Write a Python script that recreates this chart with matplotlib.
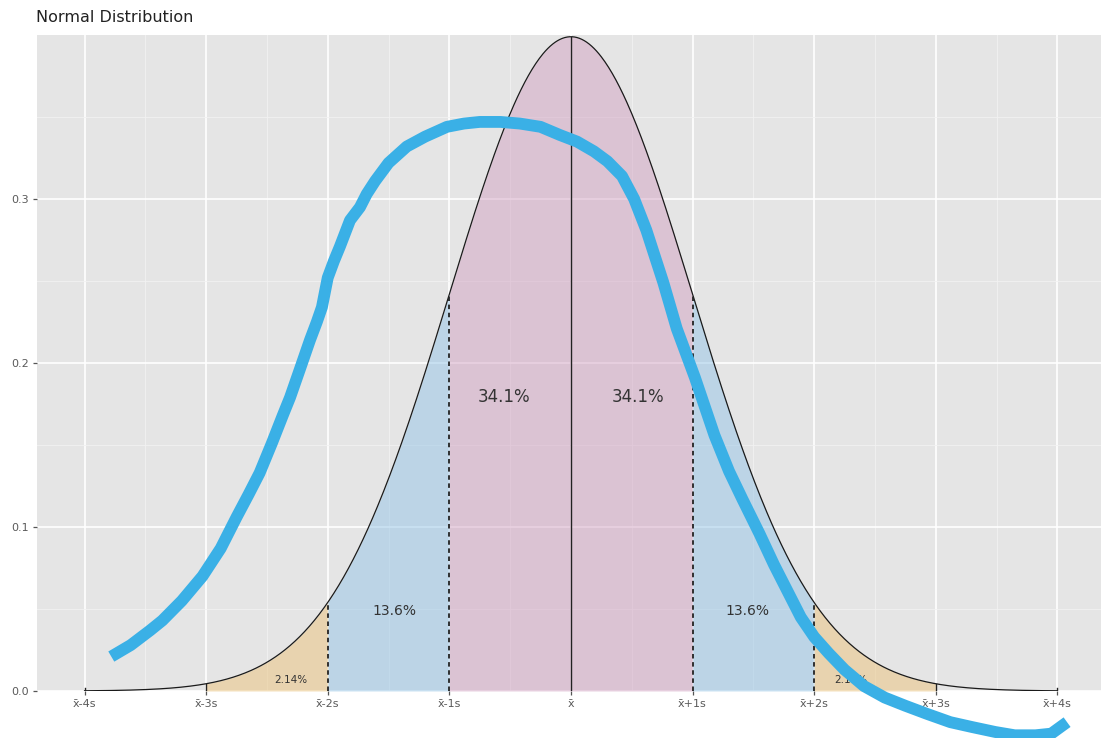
import numpy as np
import matplotlib.pyplot as plt

# normal curve parameters
mu = 0.0
sd = 1.0

tick_pos = [-4, -3, -2, -1, 0, 1, 2, 3, 4]
tick_labels = ["x\u0304-4s", "x\u0304-3s", "x\u0304-2s", "x\u0304-1s", "x\u0304",
               "x\u0304+1s", "x\u0304+2s", "x\u0304+3s", "x\u0304+4s"]
y_ticks = [0.0, 0.1, 0.2, 0.3]

# shaded bands: (from, to, colour)
bands = [(-3, -2, "#EBC37B"), (-2, -1, "#95C5E7"), (-1, 1, "#D3A3C3"),
         (1, 2, "#95C5E7"), (2, 3, "#EBC37B")]

# percentage labels
pct_text = ["34.1%", "34.1%", "13.6%", "13.6%", "2.14%", "2.14%"]
pct_x = [-0.55, 0.55, -1.45, 1.45, -2.3, 2.3]
pct_y = [0.179, 0.179, 0.049, 0.049, 0.0065, 0.0065]
pct_size = [12, 12, 10, 10, 7.5, 7.5]

# hand drawn blue curve
blue_x = [-3.78, -3.62, -3.46, -3.36, -3.2, -3.03, -2.88, -2.75, -2.65, -2.56,
          -2.46, -2.37, -2.31, -2.23, -2.146, -2.09, -2.048, -2.0, -1.95, -1.9,
          -1.817, -1.735, -1.68, -1.61, -1.5, -1.35, -1.2, -1.02, -0.88, -0.75,
          -0.58, -0.42, -0.25, -0.09, 0.05, 0.19, 0.3, 0.42, 0.52, 0.62, 0.69,
          0.76, 0.87, 1.02, 1.18, 1.3, 1.41, 1.55, 1.67, 1.78, 1.89, 2.0, 2.12,
          2.25, 2.41, 2.58, 2.75, 2.93, 3.12, 3.3, 3.49, 3.65, 3.82, 3.95, 4.08]
blue_y = [0.021, 0.028, 0.037, 0.043, 0.055, 0.07, 0.087, 0.106, 0.12, 0.133,
          0.151, 0.168, 0.179, 0.196, 0.214, 0.225, 0.234, 0.252, 0.262, 0.271,
          0.287, 0.295, 0.303, 0.311, 0.322, 0.332, 0.338, 0.344, 0.346, 0.347,
          0.347, 0.346, 0.344, 0.339, 0.335, 0.329, 0.323, 0.314, 0.3, 0.281,
          0.265, 0.249, 0.221, 0.191, 0.156, 0.134, 0.117, 0.096, 0.077, 0.061,
          0.045, 0.033, 0.023, 0.013, 0.003, -0.004, -0.009, -0.014, -0.019,
          -0.022, -0.025, -0.027, -0.027, -0.026, -0.019]

xs = np.linspace(-4, 4, 801)
dens = np.exp(-0.5 * ((xs - mu) / sd) ** 2) / (sd * np.sqrt(2 * np.pi))


def pdf(v):
    return np.exp(-0.5 * ((v - mu) / sd) ** 2) / (sd * np.sqrt(2 * np.pi))


fig = plt.figure(figsize=(11.01, 7.38), dpi=100)
ax = fig.add_axes([37 / 1101, 47 / 738, 1064 / 1101, 656 / 738])
ax.set_facecolor("#E5E5E5")

ax.set_xticks(tick_pos)
ax.set_xticklabels(tick_labels)
ax.set_xticks([-3.5, -2.5, -1.5, -0.5, 0.5, 1.5, 2.5, 3.5], minor=True)
ax.set_yticks(y_ticks)
ax.set_yticklabels(["0.0", "0.1", "0.2", "0.3"])
ax.set_yticks([0.05, 0.15, 0.25, 0.35], minor=True)
ax.set_xlim(-4.391, 4.359)
ax.set_ylim(0, 0.4)
ax.grid(which="major", color="white", lw=1.2)
ax.grid(which="minor", color="#F2F2F2", lw=0.6)
ax.set_axisbelow(True)
for s in ax.spines.values():
    s.set_visible(False)
ax.tick_params(which="major", length=3, width=0.9, color="#555555",
               labelcolor="#5a5a5a", labelsize=8, pad=3)
ax.tick_params(which="minor", length=0)

for lo, hi, col in bands:
    m = (xs >= lo) & (xs <= hi)
    ax.fill_between(xs[m], 0, dens[m], color=col, alpha=0.5, lw=0, zorder=2)

ax.plot(xs, dens, color="#1a1a1a", lw=0.9, zorder=3)

# vertical segments
for v in [-4, -3, 3, 4, 0]:
    ax.plot([v, v], [0, pdf(v) + (0.002 if abs(v) == 4 else 0)], color="#222222", lw=1.0, zorder=3)
for v in [-2, -1, 1, 2]:
    ax.plot([v, v], [0, pdf(v)], color="#222222", lw=1.3, ls=(0, (2.5, 2)), zorder=3)

for t, x, y, fs in zip(pct_text, pct_x, pct_y, pct_size):
    ax.text(x, y, t, ha="center", va="center", fontsize=fs, color="#333333", zorder=4)

ax.plot(blue_x, blue_y, color="#3AB0E6", lw=8.5, solid_capstyle="butt",
        solid_joinstyle="round", clip_on=False, zorder=5)

fig.text(36 / 1101, 1 - 17 / 738, "Normal Distribution", fontsize=11.5,
         color="#222222", ha="left", va="center")

fig.savefig("out.png", dpi=100, facecolor="white")
